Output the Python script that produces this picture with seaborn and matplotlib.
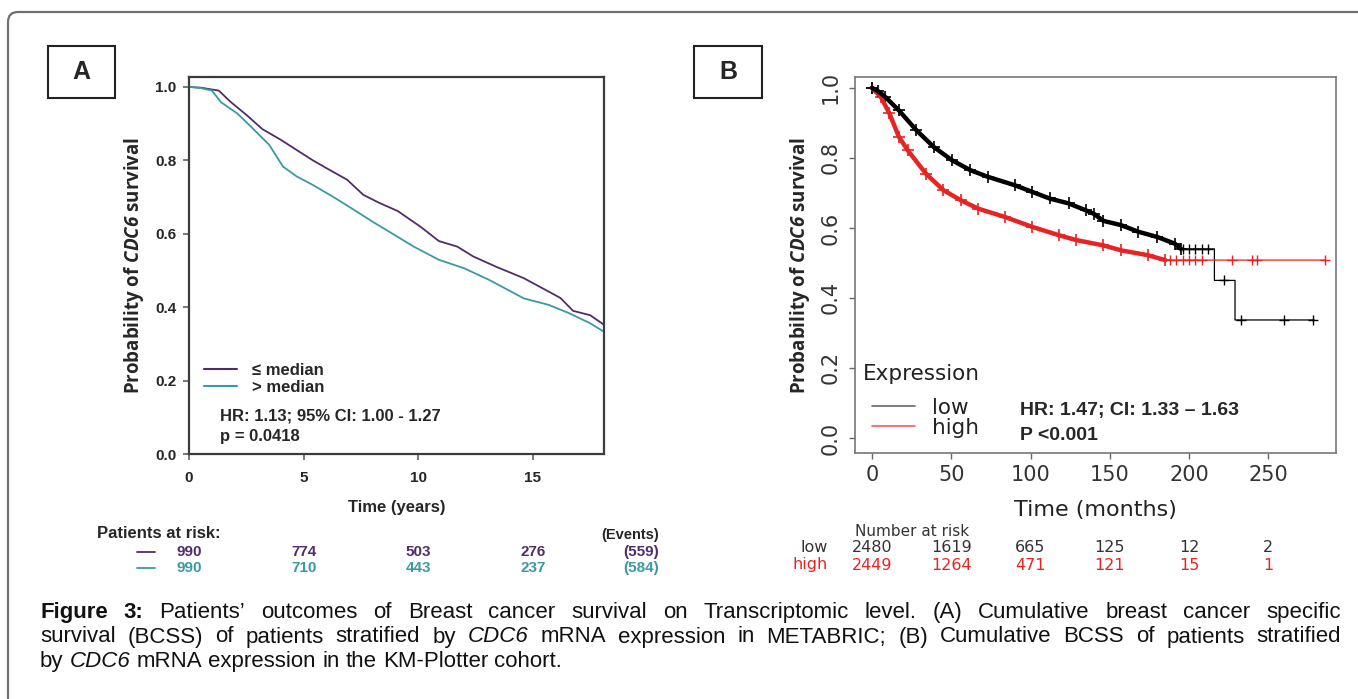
import matplotlib
matplotlib.use("Agg")
import matplotlib.pyplot as plt
import seaborn as sns
import pandas as pd
from matplotlib import font_manager
from matplotlib.patches import FancyBboxPatch, Rectangle
from matplotlib.lines import Line2D
from matplotlib.transforms import blended_transform_factory

# ---- panel A: METABRIC (years) ----
a_low_t = [0, 0.5, 1.0, 1.3, 1.8, 2.5, 3.2, 4.0, 4.7, 5.4, 6.1, 6.9, 7.6, 8.3, 9.1,
           10.1, 10.9, 11.7, 12.4, 13.4, 14.6, 15.7, 16.2, 16.75, 17.5, 18.1]
a_low_s = [1.0, 0.998, 0.993, 0.99, 0.96, 0.924, 0.885, 0.856, 0.828, 0.80, 0.775, 0.747,
           0.706, 0.684, 0.662, 0.619, 0.58, 0.565, 0.538, 0.51, 0.479, 0.442, 0.425,
           0.39, 0.378, 0.352]
a_high_t = [0, 0.5, 1.0, 1.4, 2.1, 2.7, 3.5, 4.1, 4.7, 5.4, 6.3, 7.2, 8.0, 8.8, 9.8,
            10.9, 12.0, 13.1, 14.6, 15.7, 16.6, 17.5, 18.1]
a_high_s = [1.0, 0.997, 0.99, 0.958, 0.928, 0.892, 0.842, 0.783, 0.756, 0.733, 0.70, 0.665,
            0.633, 0.603, 0.565, 0.529, 0.506, 0.474, 0.424, 0.406, 0.383, 0.356, 0.333]
a_groups = ["≤ median", "> median"]
a_risk_times = [0, 5, 10, 15]
a_risk_low = [990, 774, 503, 276]
a_risk_high = [990, 710, 443, 237]
a_events = ["(559)", "(584)"]
a_stats = ["HR: 1.13; 95% CI: 1.00 - 1.27", "p = 0.0418"]

# ---- panel B: KM-Plotter (months) ----
b_low_t = [0, 4, 8.4, 16.9, 28, 39, 50.6, 62, 73, 90, 101, 112, 124, 135, 140, 146, 157,
           168, 180, 191, 195, 216, 216, 229, 229, 279]
b_low_s = [1.0, 0.99, 0.974, 0.936, 0.879, 0.831, 0.793, 0.765, 0.746, 0.722, 0.703, 0.684,
           0.67, 0.65, 0.64, 0.62, 0.608, 0.589, 0.574, 0.555, 0.54, 0.54, 0.45, 0.45,
           0.337, 0.337]
b_high_t = [0, 5.6, 11, 17, 22.5, 34, 45, 56, 67, 84, 101, 118, 129, 146, 157, 174, 185, 286]
b_high_s = [1.0, 0.974, 0.927, 0.86, 0.822, 0.755, 0.708, 0.679, 0.655, 0.631, 0.603, 0.579,
            0.565, 0.55, 0.536, 0.522, 0.508, 0.508]
b_low_cens_t = [196, 200, 204, 208, 212, 222, 233, 260, 278]
b_low_cens_s = [0.54, 0.54, 0.54, 0.54, 0.54, 0.45, 0.337, 0.337, 0.337]
b_high_cens_t = [188, 192, 196, 200, 204, 208, 227, 240, 243, 286]
b_high_cens_s = [0.508, 0.508, 0.508, 0.508, 0.508, 0.508, 0.508, 0.508, 0.508, 0.508]
b_groups = ["low", "high"]
b_risk_times = [0, 50, 100, 150, 200, 250]
b_risk_low = [2480, 1619, 665, 125, 12, 2]
b_risk_high = [2449, 1264, 471, 121, 15, 1]
b_stats = ["HR: 1.47; CI: 1.33 – 1.63", "P <0.001"]

caption = [
    "**Figure** **3:** Patients’ outcomes of Breast cancer survival on Transcriptomic level. (A) Cumulative breast cancer specific",
    "survival (BCSS) of patients stratified by _CDC6_ mRNA expression in METABRIC; (B) Cumulative BCSS of patients stratified",
    "by _CDC6_ mRNA expression in the KM-Plotter cohort.",
]

PURPLE = "#4f2d6b"
TEAL = "#3a9aa3"
RED = "#e62424"
W, H = 1358, 699

sns.set_style("white")
installed = {f.name for f in font_manager.fontManager.ttflist}
NARROW = "Liberation Sans Narrow" if "Liberation Sans Narrow" in installed else "Liberation Sans"
LABEL_FONT = "Open Sans" if "Open Sans" in installed else "DejaVu Sans"
plt.rcParams["font.family"] = ["DejaVu Sans"]
plt.rcParams["mathtext.fontset"] = "custom"
plt.rcParams["mathtext.bfit"] = f"{LABEL_FONT}:italic:bold"

fig = plt.figure(figsize=(W / 100, H / 100), dpi=100)
canvas = fig.add_axes([0, 0, 1, 1], zorder=0)
canvas.set_xlim(0, W)
canvas.set_ylim(H, 0)
canvas.axis("off")


def axes_box(left, top, right, bottom):
    return [left / W, 1 - bottom / H, (right - left) / W, (bottom - top) / H]


# outer frame and panel letters
canvas.add_patch(FancyBboxPatch((8, 12), 1420, 760, boxstyle="round,pad=0,rounding_size=10",
                                fill=False, ec="#707070", lw=1.6))
for (x0, w0, letter) in [(48, 67, "A"), (694, 68, "B")]:
    canvas.add_patch(Rectangle((x0, 46), w0, 52, fill=False, ec="#222222", lw=1.5))
    canvas.text(x0 + w0 / 2, 72, letter, ha="center", va="center", fontsize=18,
                fontweight="bold", family="Liberation Sans")

ylabel = r"Probability of $\mathbfit{CDC6}$ survival"
ylabel_kw = dict(fontsize=13.5, family=LABEL_FONT, fontweight="bold")

# ---------------- panel A ----------------
ax_a = fig.add_axes(axes_box(189, 77, 604, 454), zorder=1)
df_a = pd.concat([
    pd.DataFrame({"time": a_low_t, "surv": a_low_s, "group": a_groups[0]}),
    pd.DataFrame({"time": a_high_t, "surv": a_high_s, "group": a_groups[1]}),
])
sns.lineplot(data=df_a, x="time", y="surv", hue="group", palette=[PURPLE, TEAL],
             estimator=None, sort=False, lw=1.3, legend=False, ax=ax_a)
ax_a.set_xlim(0, 18.1)
ax_a.set_ylim(0, 1.027)
ax_a.set_xticks(a_risk_times)
ax_a.set_yticks([0, 0.2, 0.4, 0.6, 0.8, 1.0])
ax_a.set_yticklabels(["0.0", "0.2", "0.4", "0.6", "0.8", "1.0"])
ax_a.tick_params(bottom=True, left=True, direction="out", length=4, width=1.1,
                 color="#555555", labelsize=11, pad=5)
ax_a.tick_params(axis="x", pad=8)
for lbl in ax_a.get_xticklabels() + ax_a.get_yticklabels():
    lbl.set_family(NARROW)
    lbl.set_fontweight("bold")
for sp in ax_a.spines.values():
    sp.set_color("#3c3c3c")
    sp.set_linewidth(1.6)
ax_a.set_xlabel("Time (years)", family=NARROW, fontweight="bold", fontsize=12)
ax_a.xaxis.set_label_coords(0.5, -0.1406)
ax_a.xaxis.label.set_va("center")
ax_a.set_ylabel(ylabel, **ylabel_kw)
ax_a.yaxis.set_label_coords(-0.1325, 0.5)
ax_a.yaxis.label.set_va("center")

a_handles = [Line2D([], [], color=PURPLE, lw=1.5), Line2D([], [], color=TEAL, lw=1.5)]
ax_a.legend(a_handles, a_groups, loc="center left", bbox_to_anchor=(0.036, 0.199),
            frameon=False, borderpad=0, borderaxespad=0, handlelength=2.0,
            handletextpad=0.9, labelspacing=0.15,
            prop={"family": NARROW, "weight": "bold", "size": 12})
for txt, yy in zip(a_stats, [416, 436]):
    ax_a.text(0.075, (454 - yy) / 377, txt, transform=ax_a.transAxes, va="center",
              family=NARROW, fontweight="bold", fontsize=12)

# risk table A
tr_a = blended_transform_factory(ax_a.transData, canvas.transData)
canvas.text(97, 534, "Patients at risk:", va="center", family=NARROW, fontweight="bold", fontsize=12)
canvas.text(659, 535, "(Events)", va="center", ha="right", family=NARROW, fontweight="bold", fontsize=10.5)
for row, yy, col, ev in [(a_risk_low, 552, PURPLE, a_events[0]), (a_risk_high, 568, TEAL, a_events[1])]:
    canvas.plot([137, 155], [yy, yy], color=col, lw=1.3)
    for t, n in zip(a_risk_times, row):
        canvas.text(t, yy, str(n), transform=tr_a, ha="center", va="center", color=col,
                    family=NARROW, fontweight="bold", fontsize=11)
    canvas.text(659, yy, ev, ha="right", va="center", color=col, family=NARROW,
                fontweight="bold", fontsize=11)

# ---------------- panel B ----------------
ax_b = fig.add_axes(axes_box(855, 77, 1336, 453), zorder=1)
df_b = pd.concat([
    pd.DataFrame({"time": b_low_t, "surv": b_low_s, "group": b_groups[0]}),
    pd.DataFrame({"time": b_high_t, "surv": b_high_s, "group": b_groups[1]}),
])
pal_b = {"low": "black", "high": RED}
sns.lineplot(data=df_b, x="time", y="surv", hue="group", palette=pal_b,
             estimator=None, sort=False, lw=0.9, legend=False, ax=ax_b)
# dense censoring band in the early follow-up
dense_low = df_b[(df_b.group == "low") & (df_b.time <= 195)]
dense_high = df_b[(df_b.group == "high") & (df_b.time <= 185)]
for part, col in [(dense_high, RED), (dense_low, "black")]:
    sns.lineplot(data=part, x="time", y="surv", color=col, estimator=None, sort=False,
                 lw=3.2, ax=ax_b)
    sns.scatterplot(data=part, x="time", y="surv", color=col, marker="+", s=70,
                    linewidth=1.2, ax=ax_b)
sns.scatterplot(x=b_low_cens_t, y=b_low_cens_s, color="black", marker="+", s=60,
                linewidth=1.0, ax=ax_b)
sns.scatterplot(x=b_high_cens_t, y=b_high_cens_s, color=RED, marker="+", s=60,
                linewidth=1.0, ax=ax_b)
ax_b.set_xlim(-10.7, 292.7)
ax_b.set_ylim(-0.043, 1.031)
ax_b.set_xticks(b_risk_times)
ax_b.set_yticks([0, 0.2, 0.4, 0.6, 0.8, 1.0])
ax_b.set_yticklabels(["0.0", "0.2", "0.4", "0.6", "0.8", "1.0"])
ax_b.tick_params(bottom=True, left=True, direction="out", length=4.5, width=1.0,
                 color="#666666", labelsize=15, labelcolor="#333333", pad=4)
ax_b.tick_params(axis="y", labelrotation=90, pad=6)
for lbl in ax_b.get_yticklabels():
    lbl.set_va("center")
for sp in ax_b.spines.values():
    sp.set_color("#777777")
    sp.set_linewidth(1.2)
ax_b.set_xlabel("Time (months)", fontsize=16, color="#222222")
ax_b.xaxis.set_label_coords(0.5, -0.1516)
ax_b.xaxis.label.set_va("center")
ax_b.set_ylabel(ylabel, **ylabel_kw)
ax_b.yaxis.set_label_coords(-0.114, 0.5)
ax_b.yaxis.label.set_va("center")

ax_b.text(0.0166, (453 - 374) / 376, "Expression", transform=ax_b.transAxes, va="center",
          fontsize=15.5, color="#222222")
b_handles = [Line2D([], [], color="#666666", lw=1.2), Line2D([], [], color="#f06060", lw=1.2)]
ax_b.legend(b_handles, b_groups, loc="center left", bbox_to_anchor=(0.035, 0.0944),
            frameon=False, borderpad=0, borderaxespad=0, handlelength=2.0,
            handletextpad=0.8, labelspacing=0.0, prop={"size": 15.5},
            labelcolor="#222222")
for txt, yy in zip(b_stats, [410, 435]):
    ax_b.text(0.343, (453 - yy) / 376, txt, transform=ax_b.transAxes, va="center",
              family=NARROW, fontweight="bold", fontsize=14)

# risk table B
tr_b = blended_transform_factory(ax_b.transData, canvas.transData)
canvas.text(25, 531, "Number at risk", transform=tr_b, ha="center", va="center",
            fontsize=11, color="#333333")
for row, yy, col, name in [(b_risk_low, 548, "#333333", b_groups[0]), (b_risk_high, 565, RED, b_groups[1])]:
    canvas.text(-28, yy, name, transform=tr_b, ha="right", va="center", fontsize=11.5, color=col)
    for t, n in zip(b_risk_times, row):
        canvas.text(t, yy, str(n), transform=tr_b, ha="center", va="center", fontsize=11.5,
                    color=col)

# ---------------- caption (justified, baseline aligned) ----------------
renderer = fig.canvas.get_renderer()
CAP_SIZE = 16
left, right = 40, 1341
for i, (line, yy) in enumerate(zip(caption, [618, 642.5, 667])):
    items = []
    for word in line.split(" "):
        weight, style = "normal", "normal"
        if word.startswith("**"):
            word, weight = word.strip("*"), "bold"
        elif word.startswith("_"):
            word, style = word.strip("_"), "italic"
        t = canvas.text(0, yy, word, va="baseline", ha="left", fontsize=CAP_SIZE,
                        family="Liberation Sans", fontweight=weight, fontstyle=style,
                        color="#111111")
        items.append((t, t.get_window_extent(renderer).width))
    total = sum(w for _, w in items)
    gap = (right - left - total) / (len(items) - 1) if i < len(caption) - 1 else 0.278 * CAP_SIZE * 100 / 72
    x = left
    for t, w in items:
        t.set_x(x)
        x += w + gap

fig.savefig("out.png", dpi=100)
